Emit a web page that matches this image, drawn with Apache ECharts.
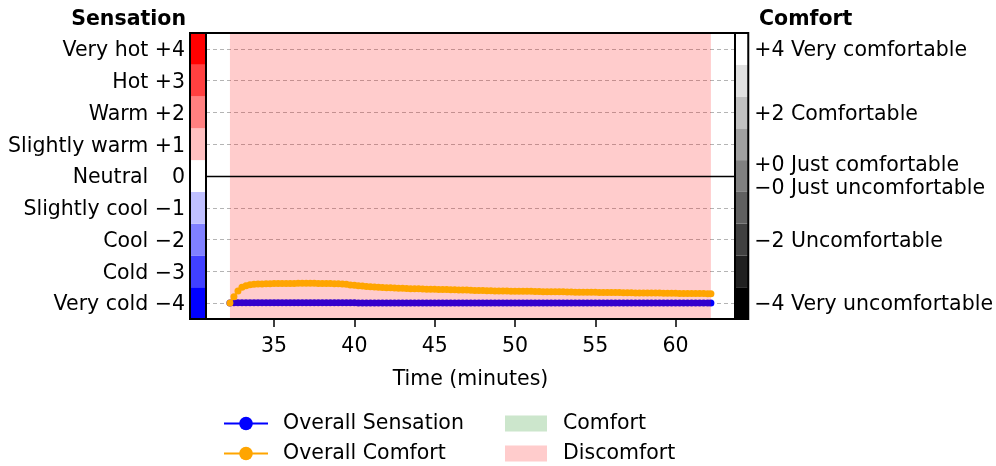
<!DOCTYPE html>
<html>
<head>
<meta charset="utf-8">
<script src="https://cdn.jsdelivr.net/npm/echarts@6/dist/echarts.min.js"></script>
<style>html,body{margin:0;padding:0;background:#fff}#c{width:996px;height:466px}</style>
</head>
<body>
<div id="c"></div>
<script>
// ---- data ----
const times = [32.25,32.5,32.75,33,33.25,33.5,33.75,34,34.25,34.5,34.75,35,
35.25,35.5,35.75,36,36.25,36.5,36.75,37,37.25,37.5,37.75,38,38.25,38.5,38.75,39,
39.25,39.5,39.75,40,40.25,40.5,40.75,41,41.25,41.5,41.75,42,42.25,42.5,42.75,43,
43.25,43.5,43.75,44,44.25,44.5,44.75,45,45.25,45.5,45.75,46,46.25,46.5,46.75,47,
47.25,47.5,47.75,48,48.25,48.5,48.75,49,49.25,49.5,49.75,50,50.25,50.5,50.75,51,
51.25,51.5,51.75,52,52.25,52.5,52.75,53,53.25,53.5,53.75,54,54.25,54.5,54.75,55,
55.25,55.5,55.75,56,56.25,56.5,56.75,57,57.25,57.5,57.75,58,58.25,58.5,58.75,59,
59.25,59.5,59.75,60,60.25,60.5,60.75,61,61.25,61.5,61.75,62,62.2];
const overallSensation = [-4,-3.985,-3.985,-3.985,-3.985,-3.985,-3.985,-3.985,-3.985,-3.985,-3.985,-3.985,
-3.985,-3.985,-3.985,-3.985,-3.985,-3.985,-3.985,-3.985,-3.985,-3.985,-3.985,-3.985,-3.985,-3.985,-3.985,-3.985,
-3.99,-3.99,-3.99,-3.99,-3.995,-3.995,-4,-4,-4,-4,-4,-4,-4,-4,-4,-4,
-4,-4,-4,-4,-4,-4,-4,-4,-4,-4,-4,-4,-4,-4,-4,-4,
-4,-4,-4,-4,-4,-4,-4,-4,-4,-4,-4,-4,-4,-4,-4,-4,
-4,-4,-4,-4,-4,-4,-4,-4,-4,-4,-4,-4,-4,-4,-4,-4,
-4,-4,-4,-4,-4,-4,-4,-4,-4,-4,-4,-4,-4,-4,-4,-4,
-4,-4,-4,-4,-4,-4,-4,-4,-4,-4,-4,-4,-4];
const overallComfort = [-4.0,-3.80,-3.62,-3.50,-3.45,-3.42,-3.41,-3.40,-3.395,-3.39,-3.39,-3.385,
-3.385,-3.38,-3.38,-3.38,-3.38,-3.375,-3.375,-3.375,-3.375,-3.375,-3.38,-3.38,-3.38,-3.385,-3.39,-3.39,
-3.40,-3.41,-3.43,-3.44,-3.455,-3.465,-3.475,-3.485,-3.495,-3.50,-3.51,-3.515,-3.52,-3.525,-3.53,-3.535,
-3.54,-3.545,-3.55,-3.55,-3.555,-3.56,-3.56,-3.565,-3.57,-3.57,-3.575,-3.58,-3.58,-3.585,-3.59,-3.59,
-3.595,-3.60,-3.60,-3.605,-3.61,-3.61,-3.615,-3.62,-3.62,-3.62,-3.625,-3.625,-3.625,-3.63,-3.63,-3.63,
-3.635,-3.635,-3.64,-3.64,-3.64,-3.645,-3.645,-3.645,-3.65,-3.65,-3.655,-3.655,-3.655,-3.66,-3.66,-3.66,
-3.665,-3.665,-3.665,-3.67,-3.67,-3.67,-3.675,-3.675,-3.675,-3.68,-3.68,-3.68,-3.68,-3.685,-3.685,-3.685,
-3.69,-3.69,-3.69,-3.69,-3.695,-3.695,-3.695,-3.70,-3.70,-3.70,-3.70,-3.705,-3.705];
const discomfortSpan = [32.25, 62.2];
const xTicks = [35, 40, 45, 50, 55, 60];
const gridValues = [-4, -3, -2, -1, 1, 2, 3, 4];

const sensationLevels = [-4, -3, -2, -1, 0, 1, 2, 3, 4];
const sensationLabels = ['Very cold \u22124', 'Cold \u22123', 'Cool \u22122', 'Slightly cool \u22121',
  'Neutral  \u2009 0', 'Slightly warm +1', 'Warm +2', 'Hot +3', 'Very hot +4'];
const sensationColors = ['#0000ff', '#4040ff', '#8080ff', '#c0c0ff', '#ffffff', '#ffc0c0', '#ff8080', '#ff4040', '#ff0000'];

const comfortLevels = [-4, -3, -2, -1, 0, 1, 2, 3, 4];
const comfortColors = ['#000000', '#202020', '#404040', '#606060', '#808080', '#a0a0a0', '#c0c0c0', '#e0e0e0', '#ffffff'];
const comfortTickValues = [4, 2, 0.38, -0.34, -2, -4];
const comfortTickLabels = ['+4 Very comfortable', '+2 Comfortable', '+0 Just comfortable',
  '\u22120 Just uncomfortable', '\u22122 Uncomfortable', '\u22124 Very uncomfortable'];

// ---- chart ----
const FONT = '"DejaVu Sans", sans-serif';
const FS = 20.5;
const NUDGE = 0.0625; // small downward nudge of tick labels (in axis units) to match text baseline
const chart = echarts.init(document.getElementById('c'), null, {renderer: 'canvas'});

function cellRender(colors) {
  return function (params, api) {
    const v = api.value(1);
    const p0 = api.coord([0, v + 0.5]);
    const p1 = api.coord([1, v - 0.5]);
    return {
      type: 'rect',
      shape: {x: p0[0], y: p0[1], width: p1[0] - p0[0], height: p1[1] - p0[1]},
      style: {fill: colors[params.dataIndex], stroke: null}
    };
  };
}
function nearestIndex(arr, v) {
  let best = 0;
  arr.forEach(function (t, i) { if (Math.abs(t - v) < Math.abs(arr[best] - v)) best = i; });
  return best;
}

const option = {
  animation: false,
  backgroundColor: '#fff',
  textStyle: {fontFamily: FONT},
  graphic: [
    {type: 'text', right: 996 - 186, top: 9, style: {text: 'Sensation', font: 'bold ' + FS + 'px ' + FONT, fill: '#000'}},
    {type: 'text', left: 759, top: 9, style: {text: 'Comfort', font: 'bold ' + FS + 'px ' + FONT, fill: '#000'}}
  ],
  grid: [
    {left: 206, top: 33, width: 529, height: 286, show: true, borderColor: '#000', borderWidth: 2, backgroundColor: 'transparent'},
    {left: 190, top: 33, width: 16, height: 286, show: true, borderColor: '#000', borderWidth: 2, backgroundColor: 'transparent', z: 5},
    {left: 735, top: 33, width: 15, height: 286, show: true, borderColor: '#000', borderWidth: 2, backgroundColor: 'transparent', z: 5}
  ],
  xAxis: [
    {
      gridIndex: 0, type: 'value', min: 30.76, max: 63.7,
      axisLine: {show: false, onZero: false},
      splitLine: {show: false},
      axisTick: {show: true, customValues: xTicks, length: 8, lineStyle: {color: '#000', width: 1.5}},
      axisLabel: {customValues: xTicks, fontSize: FS, color: '#000', margin: 17, fontFamily: FONT},
      name: 'Time (minutes)', nameLocation: 'middle', nameGap: 50,
      nameTextStyle: {fontSize: FS, color: '#000', fontFamily: FONT}
    },
    {gridIndex: 1, type: 'value', min: 0, max: 1, show: false},
    {gridIndex: 2, type: 'value', min: 0, max: 1, show: false}
  ],
  yAxis: [
    {gridIndex: 0, type: 'value', min: -4.5, max: 4.5, axisLine: {show: false, onZero: false}, axisTick: {show: false},
      axisLabel: {show: false}, splitLine: {show: false}},
    {gridIndex: 1, type: 'value', min: -4.5, max: 4.5, position: 'left',
      axisLine: {show: false}, axisTick: {show: false}, splitLine: {show: false},
      axisLabel: {customValues: sensationLevels.map(function (v) { return v - NUDGE; }),
        fontSize: FS, color: '#000', margin: 5, fontFamily: FONT,
        formatter: function (v) { return sensationLabels[nearestIndex(sensationLevels, v)]; }}},
    {gridIndex: 2, type: 'value', min: -4.5, max: 4.5, position: 'right',
      axisLine: {show: false}, axisTick: {show: false}, splitLine: {show: false},
      axisLabel: {customValues: comfortTickValues.map(function (v) { return v - NUDGE; }),
        fontSize: FS, color: '#000', margin: 6, fontFamily: FONT,
        formatter: function (v) { return comfortTickLabels[nearestIndex(comfortTickValues, v)]; }}}
  ],
  legend: [
    {
      data: ['Overall Sensation', 'Overall Comfort'], orient: 'vertical', left: 223, top: 413,
      padding: 0, itemWidth: 44, itemHeight: 17, itemGap: 9,
      textStyle: {fontSize: FS, color: '#000', fontFamily: FONT, padding: [0, 0, 0, 10]}
    },
    {
      data: ['Comfort', 'Discomfort'], orient: 'vertical', left: 505, top: 413,
      padding: 0, itemWidth: 42, itemHeight: 16, itemGap: 9, icon: 'rect',
      textStyle: {fontSize: FS, color: '#000', fontFamily: FONT, padding: [0, 0, 0, 11]}
    }
  ],
  series: [
    {
      name: 'Overall Sensation', type: 'line', xAxisIndex: 0, yAxisIndex: 0, z: 2,
      data: times.map(function (t, i) { return [t, overallSensation[i]]; }),
      color: '#0000ff', symbol: 'circle', symbolSize: 7, showSymbol: true,
      lineStyle: {width: 2, color: '#0000ff'}, itemStyle: {color: '#0000ff'},
      markLine: {
        silent: true, symbol: 'none', z: 1, label: {show: false},
        lineStyle: {color: '#b4b4b4', type: [4, 3], width: 1},
        data: gridValues.map(function (g) { return {yAxis: g}; })
      }
    },
    {
      name: 'Discomfort', type: 'custom', xAxisIndex: 0, yAxisIndex: 0, z: 3,
      color: '#ffcccc', itemStyle: {color: '#ffcccc'},
      encode: {x: [0, 1]},
      data: [discomfortSpan],
      renderItem: function (params, api) {
        const cs = params.coordSys;
        const x0 = api.coord([api.value(0), 0])[0];
        const x1 = api.coord([api.value(1), 0])[0];
        return {type: 'rect', shape: {x: x0, y: cs.y + 1, width: x1 - x0, height: cs.height - 2},
          style: {fill: 'rgba(255,0,0,0.2)'}};
      }
    },
    {
      name: 'Comfort', type: 'custom', xAxisIndex: 0, yAxisIndex: 0, z: 3,
      color: '#cce6cc', itemStyle: {color: '#cce6cc'},
      data: [],
      renderItem: function () { return null; }
    },
    {
      name: 'Overall Comfort', type: 'line', xAxisIndex: 0, yAxisIndex: 0, z: 4,
      data: times.map(function (t, i) { return [t, overallComfort[i]]; }),
      color: '#ffa500', symbol: 'circle', symbolSize: 7, showSymbol: true,
      lineStyle: {width: 2, color: '#ffa500'}, itemStyle: {color: '#ffa500'},
      markLine: {
        silent: true, symbol: 'none', z: 5, label: {show: false},
        lineStyle: {color: '#000', type: 'solid', width: 1.3},
        data: [{yAxis: 0}]
      }
    },
    {
      name: 'sensationBar', type: 'custom', xAxisIndex: 1, yAxisIndex: 1, z: 1,
      data: sensationLevels.map(function (v) { return [0, v]; }),
      renderItem: cellRender(sensationColors)
    },
    {
      name: 'comfortBar', type: 'custom', xAxisIndex: 2, yAxisIndex: 2, z: 1,
      data: comfortLevels.map(function (v) { return [0, v]; }),
      renderItem: cellRender(comfortColors)
    }
  ]
};
chart.setOption(option);
</script>
</body>
</html>
